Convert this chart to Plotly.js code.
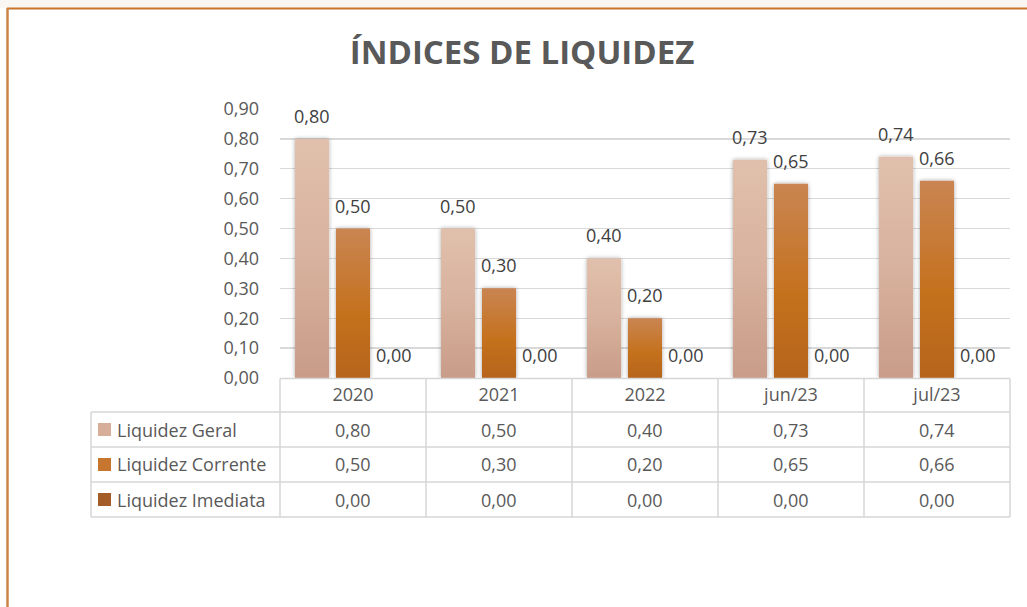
<!DOCTYPE html>
<html>
<head>
<meta charset="utf-8">
<script src="https://cdn.plot.ly/plotly-3.0.1.min.js"></script>
<style>
html,body{margin:0;padding:0;background:#fff;}
#chart{width:1027px;height:607px;}
</style>
</head>
<body>
<div id="chart"></div>
<script>
// ---- data ----
const categories = ["2020", "2021", "2022", "jun/23", "jul/23"];
const seriesNames = ["Liquidez Geral", "Liquidez Corrente", "Liquidez Imediata"];
const liquidezGeral = [0.80, 0.50, 0.40, 0.73, 0.74];
const liquidezCorrente = [0.50, 0.30, 0.20, 0.65, 0.66];
const liquidezImediata = [0.00, 0.00, 0.00, 0.00, 0.00];
const chartTitle = "ÍNDICES DE LIQUIDEZ";

const seriesValues = [liquidezGeral, liquidezCorrente, liquidezImediata];
const seriesColors = ["#d6ae9a", "#c6762f", "#a35c27"];
const gradIds = ["gGeral", "gCorrente", "gImediata"];

// ---- layout helpers (pixel -> paper) ----
const L = 280, R = 1010, T = 109, B = 378;
const xp = px => (px - L) / (R - L);
const yp = py => (B - py) / (B - T);
const fmt = v => v.toFixed(2).replace('.', ',');
const txtColor = "#595959";
const FONT = "Open Sans, DejaVu Sans, sans-serif";
const FS = 18;
const lineCol = "#d6d6d6";

const traces = seriesValues.map((vals, i) => ({
  type: "bar",
  name: seriesNames[i],
  x: categories,
  y: vals,
  marker: {color: seriesColors[i], line: {width: 0}},
  hoverinfo: "skip"
}));

const annotations = [];
// data labels above bars (x given as category index)
seriesValues.forEach((vals, i) => {
  vals.forEach((v, j) => {
    annotations.push({
      x: j, xref: "x", xshift: (i - 1) * 41,
      y: v, yref: "y", yshift: 23, yanchor: "middle",
      text: fmt(v), showarrow: false,
      font: {family: FONT, size: FS, color: "#404040"}
    });
  });
});
// table rows
const rowCenters = [429.5, 464.5, 499.5];
seriesValues.forEach((vals, i) => {
  vals.forEach((v, j) => {
    annotations.push({
      x: j, xref: "x",
      y: yp(rowCenters[i]), yref: "paper", yanchor: "middle",
      text: fmt(v), showarrow: false,
      font: {family: FONT, size: FS, color: txtColor}
    });
  });
  annotations.push({
    x: xp(115), xref: "paper", xanchor: "left",
    y: yp(rowCenters[i]), yref: "paper", yanchor: "middle",
    text: seriesNames[i], showarrow: false,
    font: {family: FONT, size: FS, color: txtColor}
  });
});

const shapes = [];
// top beige strip and frame
shapes.push({type: "rect", xref: "paper", yref: "paper", x0: xp(0), x1: xp(1027), y0: yp(8), y1: yp(0),
  fillcolor: "#faf6f2", line: {width: 0}, layer: "below"});
shapes.push({type: "line", xref: "paper", yref: "paper", x0: xp(7), x1: xp(1027), y0: yp(8.5), y1: yp(8.5),
  line: {color: "#c8742c", width: 2}});
shapes.push({type: "line", xref: "paper", yref: "paper", x0: xp(7.5), x1: xp(7.5), y0: yp(8), y1: yp(607),
  line: {color: "#cc8446", width: 2.5}});
// table horizontal lines
shapes.push({type: "line", xref: "paper", yref: "paper", x0: 0, x1: 1, y0: yp(378.5), y1: yp(378.5), line: {color: lineCol, width: 1.5}});
[412, 447, 482, 517].forEach(py => {
  shapes.push({type: "line", xref: "paper", yref: "paper", x0: xp(91), x1: 1, y0: yp(py), y1: yp(py), line: {color: lineCol, width: 1.5}});
});
// table vertical lines
for (let k = 0; k <= categories.length; k++) {
  const x = k / categories.length;
  shapes.push({type: "line", xref: "paper", yref: "paper", x0: x, x1: x, y0: yp(378.5), y1: yp(517), line: {color: lineCol, width: 1.5}});
}
shapes.push({type: "line", xref: "paper", yref: "paper", x0: xp(91), x1: xp(91), y0: yp(412), y1: yp(517), line: {color: lineCol, width: 1.5}});
// legend swatches
rowCenters.forEach((c, i) => {
  shapes.push({type: "rect", xref: "paper", yref: "paper", x0: xp(98), x1: xp(111), y0: yp(c - 6.5), y1: yp(c + 6.5),
    fillcolor: seriesColors[i], line: {width: 0}});
});

const layout = {
  width: 1027, height: 607,
  margin: {l: L, r: 1027 - R, t: T, b: 607 - B, pad: 0},
  paper_bgcolor: "#ffffff", plot_bgcolor: "rgba(0,0,0,0)",
  separators: ",.",
  showlegend: false,
  barmode: "group",
  bargap: 0.158,
  bargroupgap: 0.17,
  title: {
    text: "<b>" + chartTitle + "</b>",
    x: 522 / 1027, xref: "container", xanchor: "center",
    y: 1 - 52 / 607, yref: "container", yanchor: "middle",
    font: {family: FONT, size: 33, color: txtColor}
  },
  xaxis: {
    type: "category",
    range: [-0.5, categories.length - 0.5],
    autorange: false,
    showgrid: false, zeroline: false, showline: false,
    ticks: "", ticklabelstandoff: 4,
    tickfont: {family: FONT, size: FS, color: txtColor},
    fixedrange: true
  },
  yaxis: {
    range: [0, 0.9], autorange: false, dtick: 0.1, tick0: 0, tickformat: ".2f",
    showgrid: true, gridcolor: "#d9d9d9", gridwidth: 1.3,
    zeroline: false, showline: false,
    ticks: "", ticklabelstandoff: 20,
    tickfont: {family: FONT, size: FS, color: txtColor},
    fixedrange: true
  },
  shapes: shapes,
  annotations: annotations
};

Plotly.newPlot("chart", traces, layout, {displayModeBar: false, staticPlot: true}).then(gd => {
  const svg = gd.querySelector(".main-svg");
  const ns = "http://www.w3.org/2000/svg";
  let defs = svg.querySelector("defs");
  if (!defs) { defs = document.createElementNS(ns, "defs"); svg.insertBefore(defs, svg.firstChild); }
  const stops = [
    [["0%", "#e0c0ac"], ["50%", "#d8b29e"], ["100%", "#c89c88"]],
    [["0%", "#c98552"], ["55%", "#c5721f"], ["100%", "#b6641a"]],
    [["0%", "#b06c3a"], ["100%", "#96521f"]]
  ];
  stops.forEach((st, i) => {
    const g = document.createElementNS(ns, "linearGradient");
    g.setAttribute("id", gradIds[i]);
    g.setAttribute("x1", "0"); g.setAttribute("y1", "0");
    g.setAttribute("x2", "0"); g.setAttribute("y2", "1");
    st.forEach(s => {
      const e = document.createElementNS(ns, "stop");
      e.setAttribute("offset", s[0]); e.setAttribute("stop-color", s[1]);
      g.appendChild(e);
    });
    defs.appendChild(g);
  });
  const f = document.createElementNS(ns, "filter");
  f.setAttribute("id", "barShadow");
  f.setAttribute("x", "-30%"); f.setAttribute("y", "-10%");
  f.setAttribute("width", "160%"); f.setAttribute("height", "120%");
  const ds = document.createElementNS(ns, "feDropShadow");
  ds.setAttribute("dx", "0"); ds.setAttribute("dy", "0");
  ds.setAttribute("stdDeviation", "2"); ds.setAttribute("flood-opacity", "0.35");
  f.appendChild(ds); defs.appendChild(f);
  const traceGroups = gd.querySelectorAll(".barlayer .trace");
  traceGroups.forEach((tg, i) => {
    tg.querySelectorAll(".point path").forEach(p => {
      p.style.fill = "url(#" + gradIds[i] + ")";
      p.setAttribute("filter", "url(#barShadow)");
    });
  });
});
</script>
</body>
</html>
